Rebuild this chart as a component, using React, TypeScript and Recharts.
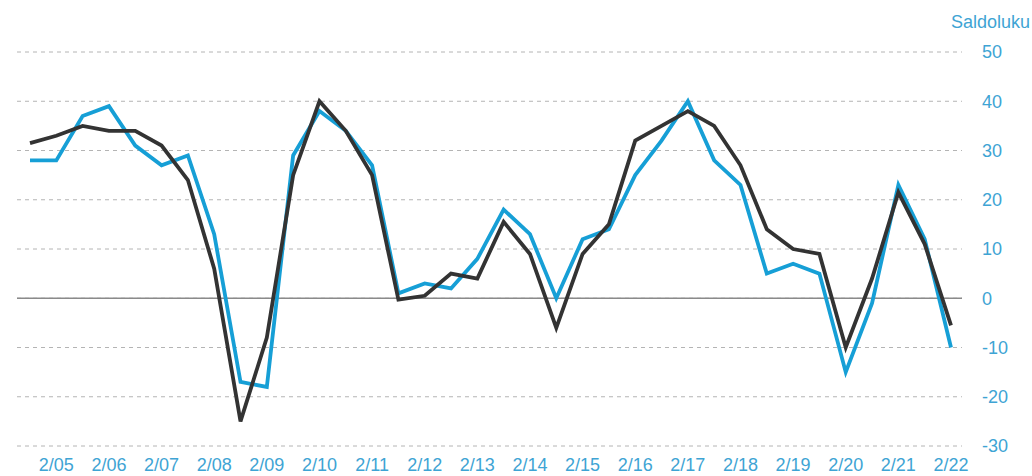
import { LineChart, Line, XAxis, YAxis, CartesianGrid, ReferenceLine } from "recharts";

const periods = [
  "4/04", "2/05", "4/05", "2/06", "4/06", "2/07", "4/07", "2/08", "4/08",
  "2/09", "4/09", "2/10", "4/10", "2/11", "4/11", "2/12", "4/12", "2/13",
  "4/13", "2/14", "4/14", "2/15", "4/15", "2/16", "4/16", "2/17", "4/17",
  "2/18", "4/18", "2/19", "4/19", "2/20", "4/20", "2/21", "4/21", "2/22"
];

const xTicks = [
  "2/05", "2/06", "2/07", "2/08", "2/09", "2/10", "2/11", "2/12", "2/13",
  "2/14", "2/15", "2/16", "2/17", "2/18", "2/19", "2/20", "2/21", "2/22"
];

const yTicks = [-30, -20, -10, 0, 10, 20, 30, 40, 50];

const blueSeries = [
  28, 28, 37, 39, 31, 27, 29, 13, -17, -18, 29, 38, 34, 27, 1, 3, 2, 8,
  18, 13, 0, 12, 14, 25, 32, 40, 28, 23, 5, 7, 5, -15, -1, 23, 12, -10
];

const darkSeries = [
  31.5, 33, 35, 34, 34, 31, 24, 6, -25, -8, 25, 40, 34, 25, -0.3, 0.5, 5, 4,
  15.5, 9, -6, 9, 15, 32, 35, 38, 35, 27, 14, 10, 9, -10, 4, 21.5, 11, -5.5
];

const data = periods.map((p, i) => ({ period: p, blue: blueSeries[i], dark: darkSeries[i] }));

const font = "'Liberation Sans', Arial, sans-serif";
const tickColor = "#3ea4d4";

export default function App() {
  return (
    <div style={{ position: "absolute", left: 0, top: 0, width: 1032, height: 476, background: "#fff" }}>
      <LineChart width={1032} height={476} data={data} margin={{ top: 52, right: 0, bottom: 0, left: 17 }}>
        <CartesianGrid vertical={false} stroke="#b4b4b4" strokeDasharray="4 4" />
        <XAxis
          dataKey="period"
          ticks={xTicks}
          interval={0}
          axisLine={false}
          tickLine={false}
          tickSize={0}
          tickMargin={12}
          height={30}
          padding={{ left: 13, right: 11 }}
          tick={{ fill: tickColor, fontSize: 18, fontFamily: font }}
        />
        <YAxis
          orientation="right"
          domain={[-30, 50]}
          ticks={yTicks}
          axisLine={false}
          tickLine={false}
          tickSize={0}
          tickMargin={20}
          width={70}
          tick={{ fill: tickColor, fontSize: 18, fontFamily: font, textAnchor: "start" }}
        />
        <ReferenceLine y={0} stroke="#8a8a8a" strokeWidth={1.5} />
        <Line dataKey="blue" stroke="#169fd6" strokeWidth={3.8} dot={false} isAnimationActive={false} strokeLinejoin="miter" />
        <Line dataKey="dark" stroke="#333333" strokeWidth={3.8} dot={false} isAnimationActive={false} strokeLinejoin="miter" />
        <text x={1030} y={28} textAnchor="end" fill={tickColor} fontSize={18} fontFamily={font}>
          Saldoluku
        </text>
      </LineChart>
    </div>
  );
}
